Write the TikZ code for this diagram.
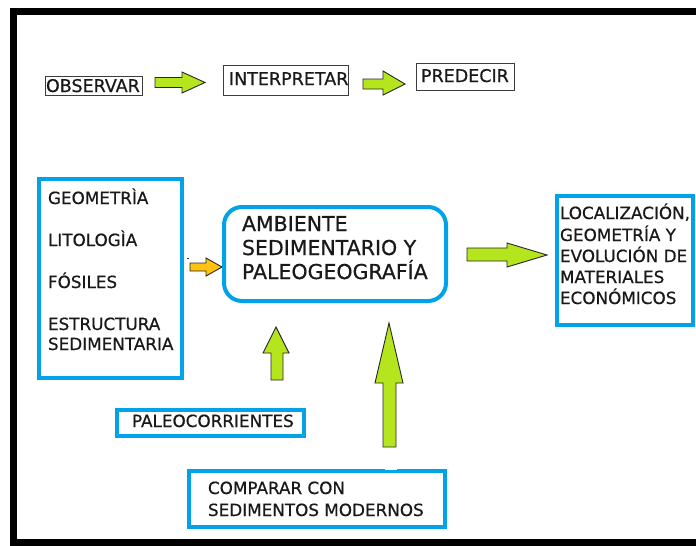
\documentclass[tikz,border=0pt]{standalone}
\usepackage{fontspec}
\setmainfont{DejaVu Sans}[FakeBold=0.6]
\definecolor{lime}{RGB}{181,230,29}
\definecolor{orng}{RGB}{255,194,14}
\definecolor{skyb}{RGB}{0,162,232}
\definecolor{edge}{RGB}{60,60,60}
\tikzset{
  bluebox/.style={draw=skyb, line width=4pt, inner sep=0pt, outer sep=0pt, rectangle},
  thinbox/.style={draw=edge, line width=1pt, inner sep=0pt, outer sep=0pt, rectangle},
  txt/.style={inner sep=0pt, outer sep=0pt, anchor=base west, text=black!90, font=\fontsize{16.8}{18}\selectfont},
  toptxt/.style={txt, font=\fontsize{17.5}{19}\selectfont},
  bigtxt/.style={txt, font=\fontsize{20.5}{22}\selectfont},
  garrow/.style={fill=lime, draw=black!85, line width=0.9pt, line join=miter},
  oarrow/.style={fill=orng, draw=black!85, line width=0.9pt, line join=miter}
}
\begin{document}
\begin{tikzpicture}[x=1pt,y=-1pt]
\useasboundingbox (0,0) rectangle (696,546);
\fill[white] (0,0) rectangle (696,546);
% frame
\fill[black] (10,7.5) rectangle (696,15);
\fill[black] (10,7.5) rectangle (17,546);
\fill[black] (10,539) rectangle (696,546);

% top row
\node[thinbox, minimum width=97pt, minimum height=19pt] (obs) at (94,86) {};
\node[toptxt] (obst) at (46,92) {OBSERVAR};
\node[thinbox, minimum width=125pt, minimum height=30pt] (int) at (286,80.5) {};
\node[toptxt] (intt) at (229,85) {INTERPRETAR};
\node[thinbox, minimum width=98pt, minimum height=27pt] (pre) at (465.5,77) {};
\node[toptxt] (pret) at (421,82) {PREDECIR};

\draw[garrow] (155,77.5) -- (182,77.5) -- (182,72) -- (205,82.5) -- (182,93) -- (182,87.5) -- (155,87.5) -- cycle;
\draw[garrow] (363,79) -- (383,79) -- (383,71) -- (405,84) -- (383,95) -- (383,89) -- (363,89) -- cycle;

% left box
\node[bluebox, minimum width=143pt, minimum height=199pt] (lbox) at (110.5,278.5) {};
\node[txt] (l1) at (48,204) {GEOMETRÌA};
\node[txt] (l2) at (48,246) {LITOLOGÌA};
\node[txt] (l3) at (48,288) {FÓSILES};
\node[txt] (l4) at (48,330) {ESTRUCTURA};
\node[txt] (l5) at (48,350) {SEDIMENTARIA};

% orange arrow
\draw[oarrow] (190,263) -- (206,263) -- (206,258) -- (222,267) -- (206,276) -- (206,271) -- (190,271) -- cycle;
\coordinate (tick) at (187,258);
\draw[black!80, line width=0.8pt] (tick) -- ++(2,0);

% central box
\node[bluebox, rounded corners=18pt, minimum width=222pt, minimum height=94pt] (amb) at (335,254) {};
\node[bigtxt] (a1) at (242,231) {AMBIENTE};
\node[bigtxt] (a2) at (242,255) {SEDIMENTARIO Y};
\node[bigtxt] (a3) at (242,279) {PALEOGEOGRAFÍA};

% right arrow
\draw[garrow] (467,248) -- (507,248) -- (507,243) -- (547,255) -- (507,267) -- (507,261) -- (467,261) -- cycle;

% right box
\node[bluebox, minimum width=136pt, minimum height=129pt] (rbox) at (625,260.5) {};
\node[txt] (r1) at (560,219) {LOCALIZACIÓN,};
\node[txt] (r2) at (560,241) {GEOMETRÍA Y};
\node[txt] (r3) at (560,262) {EVOLUCIÓN DE};
\node[txt] (r4) at (560,283) {MATERIALES};
\node[txt] (r5) at (560,304) {ECONÓMICOS};

% up arrows
\draw[garrow] (271,380) -- (271,353) -- (263,353) -- (276,327) -- (289,353) -- (283,353) -- (283,380) -- cycle;
\draw[garrow] (383,447) -- (383,383) -- (375,383) -- (389,323) -- (403,383) -- (396,383) -- (396,447) -- cycle;

% paleocorrientes
\node[bluebox, minimum width=187pt, minimum height=26pt] (pal) at (210.5,423) {};
\node[txt] (palt) at (132,427) {PALEOCORRIENTES};

% comparar
\node[bluebox, minimum width=256pt, minimum height=56pt] (comp) at (317,499) {};
\fill[white] (385,467) rectangle (397,470);
\node[txt] (c1) at (208,494) {COMPARAR CON};
\node[txt] (c2) at (208,516) {SEDIMENTOS MODERNOS};
\end{tikzpicture}
\end{document}
